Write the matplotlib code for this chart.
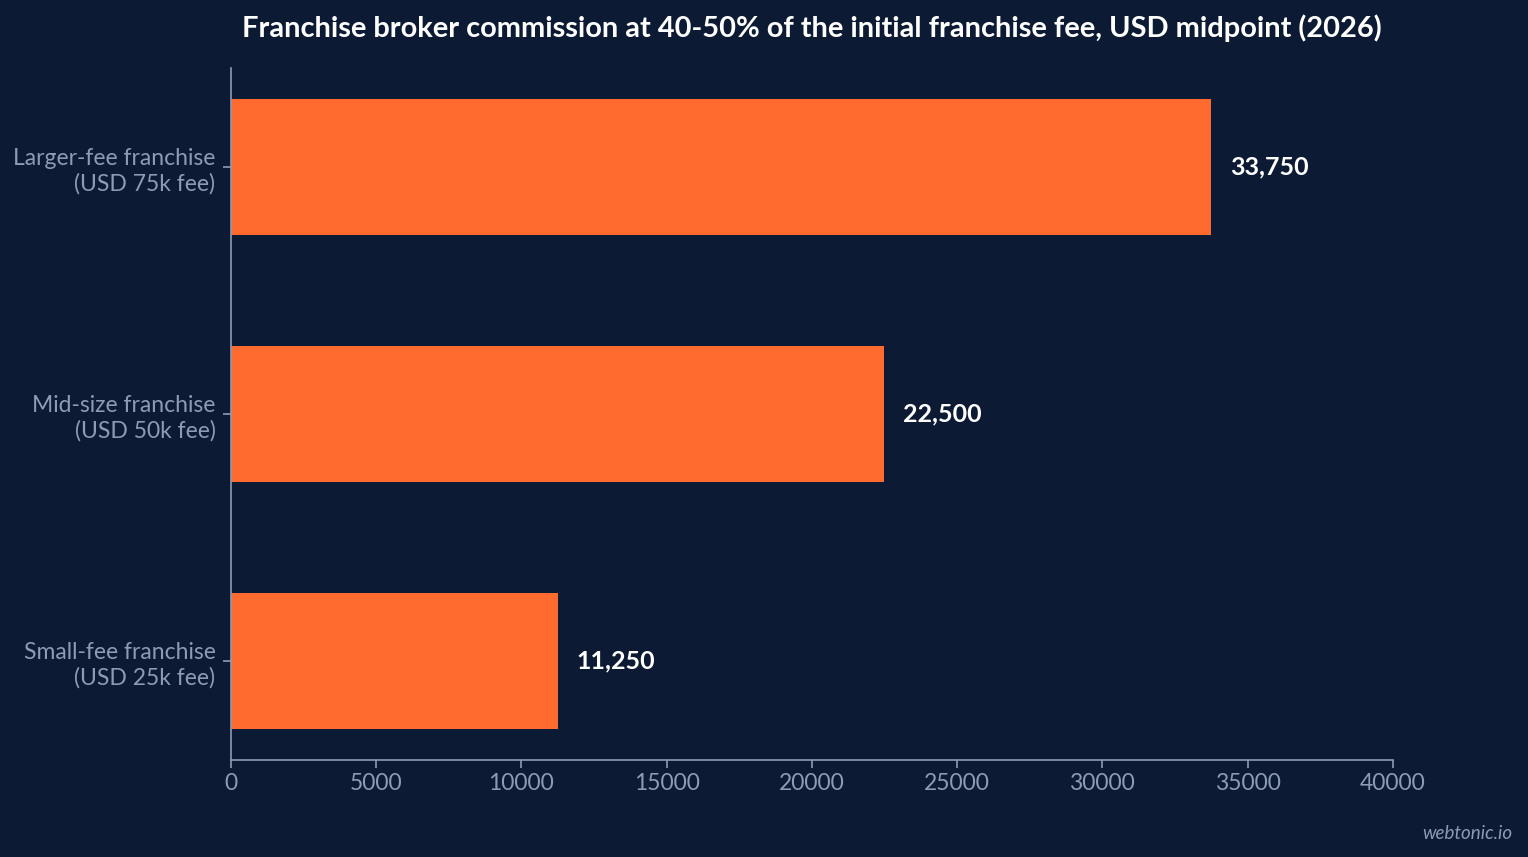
import matplotlib.pyplot as plt

categories = ["Small-fee franchise\n(USD 25k fee)",
              "Mid-size franchise\n(USD 50k fee)",
              "Larger-fee franchise\n(USD 75k fee)"]
commission = [11250, 22500, 33750]
x_ticks = [0, 5000, 10000, 15000, 20000, 25000, 30000, 35000, 40000]

bg = "#0c1b33"
bar_color = "#ff6b2f"
muted = "#8d9cb5"

plt.rcParams['font.family'] = ['Lato', 'DejaVu Sans']

fig = plt.figure(figsize=(15.28, 8.57), dpi=100, facecolor=bg)
ax = fig.add_axes([0.151, 0.1132, 0.7606, 0.8075], facecolor=bg)

ax.barh(range(len(categories)), commission, height=0.55, color=bar_color)
for i, v in enumerate(commission):
    ax.text(v + 650, i, f"{v:,}", va='center', ha='left', color='white',
            fontsize=18, fontweight='bold')

ax.set_xlim(0, 40000)
ax.set_ylim(-0.4, 2.4)
ax.set_xticks(x_ticks)
ax.set_xticklabels([str(t) for t in x_ticks])
ax.set_yticks(range(len(categories)))
ax.set_yticklabels(categories, linespacing=1.25)
ax.tick_params(colors=muted, labelsize=16.5, length=6, width=1.2)
ax.tick_params(axis='y', pad=5)
for s in ['top', 'right']:
    ax.spines[s].set_visible(False)
for s in ['left', 'bottom']:
    ax.spines[s].set_color(muted)
    ax.spines[s].set_linewidth(1.2)

# title centred over the plot area, not the whole figure
fig.text(0.5313, 0.967, "Franchise broker commission at 40-50% of the initial franchise fee, USD midpoint (2026)",
         ha='center', va='center', color='white', fontsize=20.9, fontweight='bold')
fig.text(0.99, 0.028, "webtonic.io", ha='right', va='center', color=muted,
         fontsize=13.5, style='italic')

fig.savefig("out.png", dpi=100, facecolor=bg)
